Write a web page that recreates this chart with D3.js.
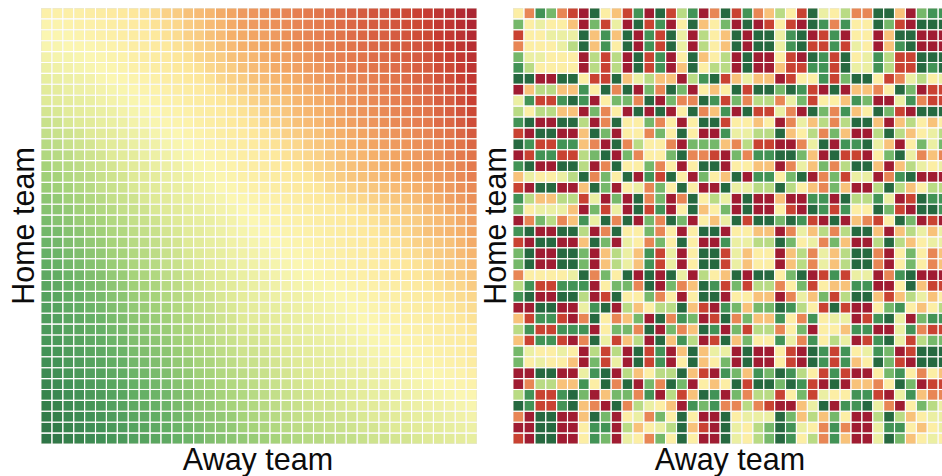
<!DOCTYPE html>
<html>
<head>
<meta charset="utf-8">
<script src="https://cdn.jsdelivr.net/npm/d3@7"></script>
<style>
  html, body { margin: 0; background: #fff; overflow: hidden; }
  text { font-family: "Liberation Sans", Arial, sans-serif; font-size: 30.5px; fill: #0c0c0c; }
</style>
</head>
<body>
<script>
// values, row by row (home team), column = away team

// left panel: 0 = dark green .. 100 = dark red
const strengthRows = [
  [54,54,55,55,56,57,58,59,60,61,62,64,65,67,68,69,71,72,74,75,76,77,78,79,80,81,82,83,84,85,86,86,87,88,89,90,92,93,95,97],
  [52,52,53,54,54,55,56,57,58,59,61,62,63,65,66,68,69,71,73,74,75,76,77,78,79,80,81,82,83,84,85,85,86,87,88,89,91,92,94,96],
  [50,51,51,52,53,54,55,56,57,58,59,61,62,64,65,67,68,70,71,72,73,74,76,77,78,79,80,81,82,83,84,84,85,86,87,88,90,91,93,95],
  [49,49,50,51,51,52,53,54,56,57,58,59,61,62,64,65,67,68,70,71,72,73,74,76,77,78,79,80,81,82,83,83,84,85,86,87,89,90,92,94],
  [47,48,48,49,50,51,52,53,55,56,57,58,60,61,63,64,65,67,68,69,71,72,73,74,75,77,78,79,80,81,82,82,83,84,85,86,88,89,91,93],
  [45,46,47,48,49,50,51,52,54,55,56,57,59,60,61,63,64,65,67,68,69,71,72,73,74,75,77,78,79,80,81,81,82,83,84,85,87,88,90,92],
  [43,44,45,46,47,49,50,51,52,53,54,56,57,59,60,61,63,64,65,67,68,69,70,71,73,74,75,76,77,78,79,80,81,82,83,84,86,87,89,91],
  [41,42,44,45,46,47,48,49,51,52,53,54,56,57,58,60,61,63,64,65,66,68,69,70,71,72,74,75,76,77,78,79,80,81,82,83,85,86,88,90],
  [40,41,42,43,44,46,47,48,49,50,52,53,54,56,57,58,60,61,62,64,65,66,67,69,70,71,72,74,75,76,77,78,79,80,81,82,84,85,87,89],
  [38,39,41,42,43,44,45,47,48,49,50,52,53,54,56,57,58,60,61,62,64,65,66,68,69,70,71,73,74,75,76,77,78,79,80,81,83,84,86,88],
  [36,37,39,40,41,43,44,45,47,48,49,51,52,53,55,56,57,59,60,61,63,64,65,67,68,69,71,72,73,74,75,76,77,78,79,80,82,83,85,87],
  [35,36,37,38,40,41,42,44,45,46,48,49,50,52,53,54,56,57,58,60,61,62,64,65,66,67,69,70,71,72,73,74,75,76,77,78,80,81,83,85],
  [33,34,36,37,38,40,41,42,44,45,46,48,49,50,52,53,54,56,57,58,60,61,62,63,65,66,67,69,70,71,72,73,74,75,76,77,78,80,81,83],
  [32,33,34,36,37,38,40,41,42,44,45,46,48,49,50,52,53,54,56,57,58,59,61,62,63,64,66,67,68,69,70,71,72,73,74,75,76,78,80,81],
  [30,32,33,34,36,37,38,40,41,42,44,45,46,48,49,50,52,53,55,56,57,58,59,60,62,63,64,66,67,68,69,70,71,72,73,74,75,76,78,80],
  [29,30,32,33,34,36,37,38,40,41,42,44,45,46,48,49,51,52,54,55,56,57,58,59,60,62,63,65,66,67,68,69,70,71,72,73,74,75,77,79],
  [28,29,30,32,33,35,36,37,39,40,41,43,44,45,47,48,50,51,53,54,55,56,57,58,59,60,62,63,64,65,66,67,68,69,70,71,73,74,76,77],
  [26,27,29,30,32,33,35,36,37,39,40,41,43,44,46,47,48,50,51,52,53,54,55,56,58,59,60,61,62,63,64,65,66,67,68,70,71,73,74,76],
  [25,26,27,29,30,32,33,35,36,37,39,40,41,43,44,46,47,48,50,51,52,53,54,55,56,57,58,59,60,61,62,63,64,65,66,68,69,71,72,74],
  [23,25,26,28,29,30,32,33,35,36,37,39,40,42,43,44,46,47,49,50,51,52,53,54,55,56,57,58,59,60,61,62,63,64,65,67,68,69,71,73],
  [22,23,25,26,28,29,31,32,34,35,36,38,39,41,42,44,45,47,48,49,50,51,52,53,54,55,56,57,58,59,60,61,62,63,65,67,68,69,70,72],
  [21,22,24,25,27,28,30,31,33,34,35,37,38,40,41,43,44,46,47,48,49,50,51,52,53,54,55,56,57,58,59,60,61,62,64,65,66,67,69,71],
  [20,21,23,24,26,27,29,30,32,33,34,36,37,39,40,42,43,45,46,47,48,49,50,51,52,53,54,55,56,57,58,59,60,61,62,64,65,66,68,69],
  [19,20,22,23,25,26,28,29,31,32,33,35,36,38,39,41,42,44,45,46,47,48,49,50,51,52,53,54,55,56,57,58,59,60,61,62,64,65,66,68],
  [18,19,21,22,24,25,27,28,30,31,32,34,35,37,38,40,41,43,44,45,46,47,48,49,50,51,52,53,54,55,56,57,58,59,60,61,62,64,65,66],
  [17,18,20,21,23,24,26,27,29,30,31,33,34,36,37,39,40,41,43,44,45,46,47,48,48,49,50,51,52,53,54,55,56,57,58,59,61,62,63,65],
  [16,17,19,20,22,23,25,26,28,29,30,32,33,34,36,37,39,40,42,43,44,45,46,46,47,48,49,50,51,52,53,54,55,56,57,58,60,61,62,63],
  [15,16,18,19,21,22,24,25,27,28,29,30,32,33,35,36,38,39,41,42,43,43,44,45,46,47,48,49,50,51,52,53,54,55,56,57,58,59,61,62],
  [14,15,17,18,20,21,23,24,26,27,28,29,31,32,34,35,37,38,40,41,41,42,43,44,45,46,47,48,49,50,51,52,53,54,55,56,57,58,60,61],
  [13,14,16,17,19,20,22,23,25,26,27,28,30,31,33,34,36,37,39,39,40,41,42,43,44,45,46,47,48,49,50,51,52,53,54,55,56,57,58,60],
  [12,13,15,16,18,19,21,22,24,25,26,27,29,30,32,33,35,36,38,38,39,40,41,42,43,44,45,46,47,48,49,50,51,52,53,54,55,56,57,59],
  [11,12,14,15,17,18,20,21,23,24,25,26,28,29,31,32,34,35,37,37,38,39,40,41,42,43,44,45,46,47,48,49,50,51,52,53,54,55,56,58],
  [10,11,13,14,16,17,19,20,22,23,24,25,27,28,30,31,33,34,36,36,37,38,39,40,41,42,43,44,45,46,47,48,49,50,51,52,53,54,55,57],
  [9,10,12,13,15,16,18,19,21,22,23,24,26,27,29,30,32,33,34,35,36,37,38,39,40,41,42,43,44,44,45,46,47,48,49,50,51,52,53,55],
  [8,9,11,12,14,15,17,18,20,21,22,23,25,26,28,29,31,32,33,34,35,36,37,38,39,40,40,41,42,43,44,45,46,47,48,49,50,51,52,53],
  [7,8,10,11,13,14,16,17,19,20,21,22,24,25,27,28,30,31,32,33,34,35,36,37,38,39,39,40,41,42,43,43,44,45,46,47,48,49,50,51],
  [6,7,9,10,12,13,15,16,18,19,20,21,23,24,26,27,29,30,31,32,33,34,35,36,37,38,38,39,40,41,41,42,43,44,45,46,46,47,48,49],
  [5,6,8,9,11,12,14,15,17,18,19,20,22,23,25,26,27,28,30,31,32,33,34,35,36,36,37,38,38,39,40,40,41,42,43,43,44,45,46,47],
  [4,5,7,8,10,11,13,14,16,17,18,19,21,22,23,25,26,27,29,30,31,32,33,34,34,35,36,36,37,38,38,39,40,40,41,42,42,43,44,45],
  [3,4,6,7,9,10,12,13,15,16,17,18,20,21,22,24,25,26,27,28,29,30,31,32,33,33,34,35,35,36,37,37,38,38,39,40,40,41,42,43]
];

// right panel: one digit per cell, 0 = dark red .. 9 = dark green
// away teams 1-20
const resultsFirstHalf = [
  "42872109431809168029", "74544307150918049347", "14455593839081950643", "24445693849081950643",
  "75544406160918049346", "86444406160918039466", "99009941193563306891", "03663384929072970434",
  "58118980477290722981", "64663307240909049238", "89009960294472404991", "10990039704427494008",
  "98118832092644207773", "01881167907244792210", "89009960294472404990", "35445692749081940743",
  "10990039704527494009", "86336615070927029465", "74555307150918049347", "02762385929072970435",
  "89009960294472404990", "10990039705427494008", "79009970365381504991", "79009970365381504991",
  "24444592749090950643", "68118880477290723981", "89009960194472404990", "00990058906346693108",
  "31881029423709287019", "68118880477290723980", "31881029513609386019", "75445406160918039355",
  "74544307150918049347", "00990058906346693108", "02663384929072970434", "68118970377280613980",
  "98118932092654308782", "20990039704527494009", "00990048806345693109", "10990048705427494009"
];
// away teams 21-40
const resultsSecondHalf = [
  "18236419546229930788", "09014109828449710999", "90995890180440399000", "90995891181540389000",
  "09004109819458611999", "09003118819558611989", "35330144817994125645", "91997981090332497011",
  "72662571443870058211", "09115209728349710999", "44340253626993036434", "55669346273006963456",
  "26110025908895304757", "72889973091104795232", "44330253726993036545", "90884790271550289000",
  "55669643273006963466", "09003008809668501988", "09004109818449710998", "91997981090321497010",
  "44330253626993036535", "55669745273006963455", "53440362536992047423", "53440362536992047423",
  "90994790181550289000", "71662471433880049311", "44330253716993136534", "73779864191004784346",
  "27338428455018950788", "71662470443880058211", "37448528465018951677", "09004109818458701999",
  "09004109818349710999", "73879864181004784243", "91997981090332497011", "72661471544881058322",
  "26210035908895204765", "45559736374006963455", "54679854282005884345", "54679846283005973454"
];

const resultRows = resultsFirstHalf.map((r, i) => (r + resultsSecondHalf[i]).split("").map(Number));

const Width = 942;
const Height = 476;
const size = 436;
const topEdge = 8;
const teams = d3.range(40);

const svg = d3.select("body").append("svg")
  .attr("width", Width)
  .attr("height", Height)
  .style("display", "block");

// slight softening, the original is a scaled-up raster
const defs = svg.append("defs");
defs.append("filter").attr("id", "soft")
  .append("feGaussianBlur").attr("stdDeviation", 0.35);

const xScale = d3.scaleBand().domain(teams).range([0, size]).paddingInner(0.1).paddingOuter(0.05);
const yScale = d3.scaleBand().domain(teams).range([0, size]).paddingInner(0.1).paddingOuter(0.05);

// RdYlGn as it looks in the picture, a bit muted
const strengthColor = d3.scaleLinear()
  .domain([0, 10, 20, 30, 40, 50, 60, 70, 80, 90, 100])
  .range(["#26693f", "#3f8f55", "#66b066", "#a6d37a", "#dfea97", "#fbf6b2", "#fde79b", "#f5b06a", "#e47a4e", "#c63b30", "#a01c30"]);
const resultColor = d => strengthColor(100 - d * 100 / 9);

const drawPanel = (left, rows, color) => {
  const g = svg.append("g")
    .attr("transform", `translate(${left}, ${topEdge})`)
    .attr("filter", "url(#soft)");

  g.append("rect")
    .attr("width", size)
    .attr("height", size)
    .attr("fill", "#e6e6dc");

  g.selectAll("g.row")
    .data(rows)
    .join("g")
      .attr("class", "row")
      .attr("transform", (d, i) => `translate(0, ${yScale(i)})`)
    .selectAll("rect")
    .data(d => d)
    .join("rect")
      .attr("x", (d, i) => xScale(i))
      .attr("width", xScale.bandwidth())
      .attr("height", yScale.bandwidth())
      .attr("fill", d => color(d));

  // white lines between the cells
  const gaps = teams.slice(1);
  g.selectAll("line.v").data(gaps).join("line")
    .attr("class", "v")
    .attr("x1", d => xScale(d) - xScale.step() * xScale.paddingInner() / 2)
    .attr("x2", d => xScale(d) - xScale.step() * xScale.paddingInner() / 2)
    .attr("y2", size)
    .attr("stroke", "#fff")
    .attr("stroke-width", xScale.step() * xScale.paddingInner());
  g.selectAll("line.h").data(gaps).join("line")
    .attr("class", "h")
    .attr("y1", d => yScale(d) - yScale.step() * yScale.paddingInner() / 2)
    .attr("y2", d => yScale(d) - yScale.step() * yScale.paddingInner() / 2)
    .attr("x2", size)
    .attr("stroke", "#fff")
    .attr("stroke-width", yScale.step() * yScale.paddingInner());

  // axis titles
  svg.append("text")
    .attr("x", left + size / 2 - 1)
    .attr("y", 470)
    .attr("text-anchor", "middle")
    .text("Away team");
  svg.append("text")
    .attr("transform", `translate(${left - 7}, ${topEdge + size / 2}) rotate(-90)`)
    .attr("text-anchor", "middle")
    .text("Home team");
};

drawPanel(41, strengthRows, strengthColor);
drawPanel(513, resultRows, resultColor);
</script>
</body>
</html>
